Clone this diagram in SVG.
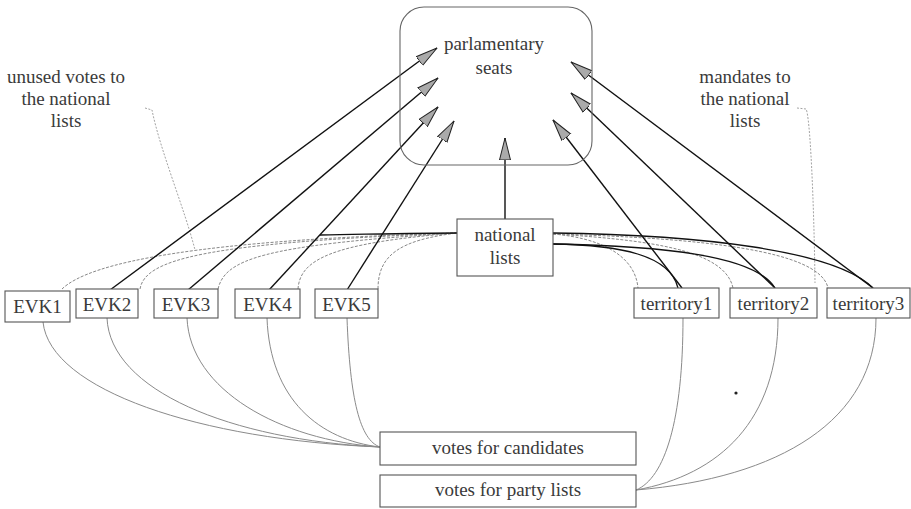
<svg xmlns="http://www.w3.org/2000/svg" width="911" height="509" viewBox="0 0 911 509">
<style>
  .box{fill:#fff;stroke:#555;stroke-width:1.1}
  .t{font-family:'Liberation Serif','DejaVu Serif','Times New Roman',Times,serif;font-size:19px;fill:#3a3a3a;text-anchor:middle}
  .arr{stroke:#111;stroke-width:1.4;fill:none}
  .dk{stroke:#111;stroke-width:1.3;fill:none}
  .gr{stroke:#888;stroke-width:1;fill:none;stroke-dasharray:3 1.5}
  .gs{stroke:#8a8a8a;stroke-width:1;fill:none}
  .ld{stroke:#999;stroke-width:0.9;fill:none;stroke-dasharray:2 1.5}
</style>
<defs>
  <marker id="ah" markerUnits="userSpaceOnUse" markerWidth="24" markerHeight="14" refX="22" refY="7" orient="auto">
    <path d="M0,1.5 L22,7 L0,12.5 z" fill="#aaa" stroke="#222" stroke-width="1"/>
  </marker>
</defs>
<rect width="911" height="509" fill="#fff"/>

<g id="connectors">
  <path class="ld" d="M145 108 L152 110 C160 150, 185 210, 195 250"/>
  <path class="ld" d="M797 108 L806 109 C810 115, 814 200, 815 283"/>
  <path class="gr" d="M62 289 C90 262, 200 240, 457 233"/>
  <path class="gr" d="M140 289 C145 260, 200 243, 457 233"/>
  <path class="gr" d="M218 289 C225 260, 260 245, 457 233"/>
  <path class="gr" d="M298 289 C300 260, 330 243, 457 233"/>
  <path class="gr" d="M378 289 C378 255, 400 240, 457 233"/>
  <path class="dk" d="M320 235 C380 234, 420 233, 457 233"/>
  <path class="gr" d="M553 234 C600 238, 635 255, 638 288"/>
  <path class="gr" d="M553 234 C650 240, 725 250, 733 288"/>
  <path class="gr" d="M553 234 C700 238, 820 250, 828 288"/>
  <path class="dk" d="M553 244 C620 245, 670 255, 678 288"/>
  <path class="dk" d="M553 244 C660 246, 755 255, 775 288"/>
  <path class="dk" d="M553 233 C700 235, 835 250, 873 288"/>
  <path class="gs" d="M43 322 C50 390, 200 440, 380 447"/>
  <path class="gs" d="M107 318 C110 390, 230 440, 380 447"/>
  <path class="gs" d="M187 318 C190 390, 280 440, 380 447"/>
  <path class="gs" d="M267 318 C270 400, 320 440, 380 447"/>
  <path class="gs" d="M347 318 C350 400, 360 440, 380 447"/>
  <path class="gs" d="M683 318 C683 420, 665 478, 636 490"/>
  <path class="gs" d="M778 318 C778 420, 720 475, 636 490"/>
  <path class="gs" d="M876 318 C876 420, 780 478, 636 490"/>
  <line class="arr" x1="110" y1="290" x2="437" y2="48" marker-end="url(#ah)"/>
  <line class="arr" x1="188" y1="290" x2="438" y2="78" marker-end="url(#ah)"/>
  <line class="arr" x1="269" y1="290" x2="438" y2="107" marker-end="url(#ah)"/>
  <line class="arr" x1="347" y1="290" x2="454" y2="121" marker-end="url(#ah)"/>
  <line class="arr" x1="505" y1="219" x2="505" y2="138" marker-end="url(#ah)"/>
  <line class="arr" x1="682" y1="288" x2="553" y2="120" marker-end="url(#ah)"/>
  <line class="arr" x1="775" y1="288" x2="571" y2="93" marker-end="url(#ah)"/>
  <line class="arr" x1="873" y1="288" x2="571" y2="62" marker-end="url(#ah)"/>
</g>

<g font-family="'Liberation Serif','DejaVu Serif','Times New Roman',serif">
<g id="parliament">
  <rect x="400" y="7" width="192" height="158" rx="24" fill="none" stroke="#666" stroke-width="1.1"/>
  <text class="t" x="494" y="50">parlamentary</text>
  <text class="t" x="494" y="74">seats</text>
</g>
<g id="label-unused">
  <text class="t" x="66" y="83">unused votes to</text>
  <text class="t" x="66" y="105">the national</text>
  <text class="t" x="66" y="127">lists</text>
</g>
<g id="label-mandates">
  <text class="t" x="745" y="83">mandates to</text>
  <text class="t" x="745" y="105">the national</text>
  <text class="t" x="745" y="127">lists</text>
</g>
<g id="national">
  <rect class="box" x="457" y="219" width="96" height="57"/>
  <text class="t" x="505" y="241">national</text>
  <text class="t" x="505" y="264">lists</text>
</g>
<g id="evk1"><rect class="box" x="5" y="291" width="65" height="31"/><text class="t" x="37.5" y="313">EVK1</text></g>
<g id="evk2"><rect class="box" x="76" y="289" width="62" height="29"/><text class="t" x="107" y="311">EVK2</text></g>
<g id="evk3"><rect class="box" x="154" y="289" width="64" height="29"/><text class="t" x="186" y="311">EVK3</text></g>
<g id="evk4"><rect class="box" x="235" y="289" width="65" height="29"/><text class="t" x="267.5" y="311">EVK4</text></g>
<g id="evk5"><rect class="box" x="315" y="289" width="63" height="29"/><text class="t" x="346.5" y="311">EVK5</text></g>
<g id="territory1"><rect class="box" x="634" y="288" width="85" height="30"/><text class="t" x="676.5" y="310">territory1</text></g>
<g id="territory2"><rect class="box" x="730" y="288" width="87" height="30"/><text class="t" x="773.5" y="310">territory2</text></g>
<g id="territory3"><rect class="box" x="827" y="288" width="83" height="30"/><text class="t" x="868.5" y="310">territory3</text></g>
<g id="votes-candidates"><rect class="box" x="380" y="432" width="256" height="33"/><text class="t" x="508" y="454">votes for candidates</text></g>
<g id="votes-party"><rect class="box" x="380" y="475" width="256" height="32"/><text class="t" x="508" y="496">votes for party lists</text></g>
</g>
<circle cx="736" cy="393" r="1.6" fill="#222"/>
</svg>
